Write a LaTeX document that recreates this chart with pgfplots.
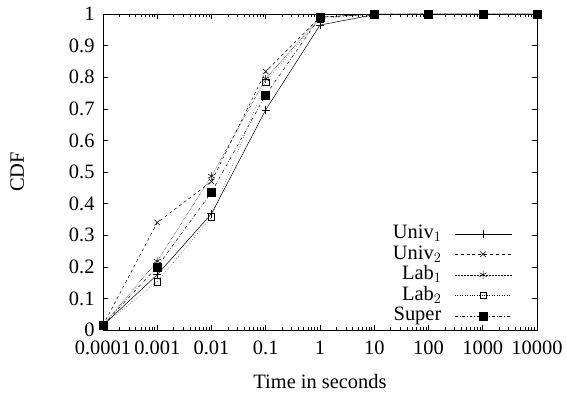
\documentclass[border=0pt]{standalone}
\usepackage{fontspec}
\setmainfont{Liberation Serif}
\usepackage{pgfplots}
\pgfplotsset{compat=1.18}
\newcommand\gf{\fontsize{20.5}{22}\selectfont}
\pgfplotsset{
  longleg/.style={legend image code/.code={%
    \draw[##1,mark=none] (0bp,0bp) -- (57bp,0bp);
    \draw[##1,only marks] plot coordinates {(28.5bp,0bp)};}}
}
\begin{document}
\begin{tikzpicture}
\begin{axis}[
  scale only axis, width=434bp, height=316bp,
  clip=false,
  xmode=log, xmin=1e-4, xmax=1e4, ymin=0, ymax=1,
  xtick={1e-4,1e-3,1e-2,1e-1,1,10,100,1000,10000},
  xticklabels={0.0001,0.001,0.01,0.1,1,10,100,1000,10000},
  ytick={0,0.1,...,1.01},
  yticklabels={0,0.1,0.2,0.3,0.4,0.5,0.6,0.7,0.8,0.9,1},
  tick align=inside, major tick length=5bp, minor tick length=3bp,
  tick style={black, line width=0.6pt},
  axis line style={line width=0.8pt},
  /pgf/number format/assume math mode=true,
  tick label style={font=\gf},
  xticklabel style={yshift=-7bp},
  yticklabel style={xshift=-5bp},
  label style={font=\gf},
  xlabel={Time in seconds}, ylabel={CDF},
  xlabel style={at={(axis description cs:0.5,-0.1835)}, anchor=base},
  ylabel style={at={(axis description cs:-0.182,0.5)}, anchor=base},
  legend style={at={(0.9424,0.012)}, anchor=south east, draw=none, fill=none,
    font=\gf, inner sep=0pt, row sep=0pt, column sep=13bp,
    nodes={inner sep=0pt, text height=15bp, text depth=5.5bp},
    legend cell align=right},
  legend plot pos=right,
  longleg,
  every axis plot/.append style={black, line width=0.5pt, mark options={solid}},
]
\path (axis description cs:-0.2373,-0.1962) rectangle (axis description cs:1.0691,1.0443);
\addplot[mark=+, mark size=4bp] coordinates {(1e-4,0.015)(1e-3,0.175)(1e-2,0.368)(1e-1,0.697)(1,0.965)(10,0.998)(100,1)(1000,1)(10000,1)};
\addlegendentry{Univ$_1$}
\addplot[dashed, mark=x, mark size=4bp] coordinates {(1e-4,0.015)(1e-3,0.34)(1e-2,0.47)(1e-1,0.818)(1,0.99)(10,1)(100,1)(1000,1)(10000,1)};
\addlegendentry{Univ$_2$}
\addplot[densely dotted, mark=asterisk, mark size=4bp] coordinates {(1e-4,0.015)(1e-3,0.218)(1e-2,0.487)(1e-1,0.795)(1,0.99)(10,1)(100,1)(1000,1)(10000,1)};
\addlegendentry{Lab$_1$}
\addplot[dotted, line width=0.4pt, mark=square, mark size=3.2bp] coordinates {(1e-4,0.015)(1e-3,0.153)(1e-2,0.358)(1e-1,0.785)(1,0.985)(10,1)(100,1)(1000,1)(10000,1)};
\addlegendentry{Lab$_2$}
\addplot[dash dot, mark=square*, mark size=4bp] coordinates {(1e-4,0.015)(1e-3,0.20)(1e-2,0.436)(1e-1,0.744)(1,0.99)(10,1)(100,1)(1000,1)(10000,1)};
\addlegendentry{Super}
\end{axis}
\end{tikzpicture}
\end{document}
